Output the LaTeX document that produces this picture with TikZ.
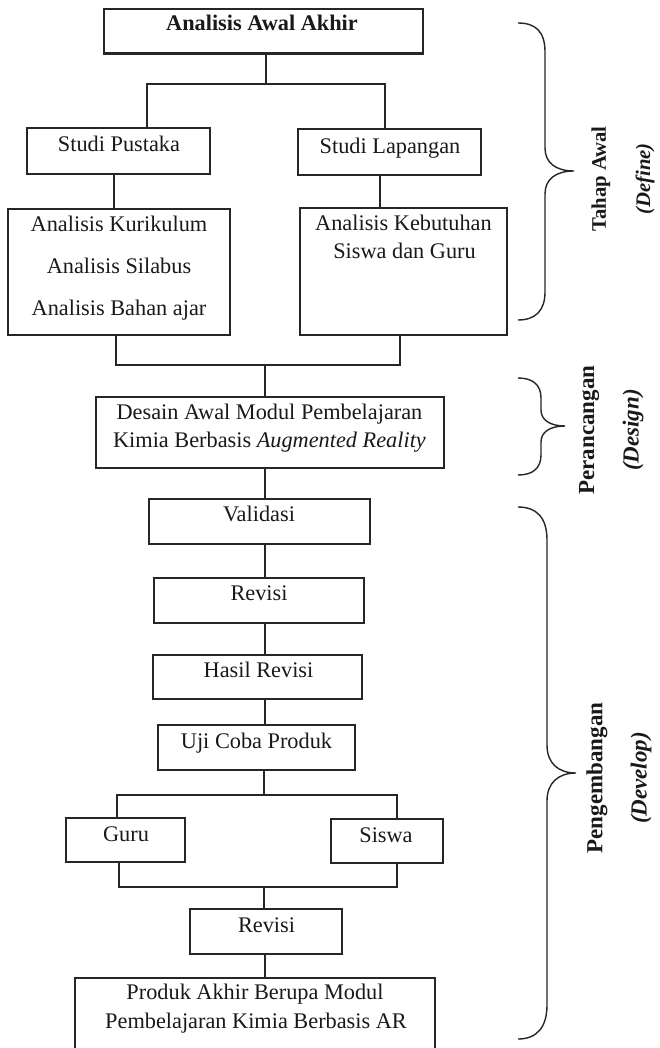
\documentclass[tikz,border=0pt]{standalone}
\usepackage{fontspec}
\setmainfont{Liberation Serif}
\begin{document}
\begin{tikzpicture}[x=1pt,y=-1pt,
  box/.style={draw=black!85, line width=1.2pt, inner sep=0pt, rectangle},
  txt/.style={inner sep=0pt, anchor=base, font=\fontsize{22.3}{27}\selectfont, text=black!90},
  conn/.style={draw=black!85, line width=1.2pt},
  brace/.style={draw=black!85, line width=1.4pt},
  side/.style={inner sep=0pt, rotate=90, anchor=center, text=black!90}]
\useasboundingbox (0,0) rectangle (659,1048);
\fill[white] (0,0) rectangle (659,1048);

% boxes (center, size)
\node[box, minimum width=319pt, minimum height=44pt] (b1) at (263.5,31) {};
\node[box, minimum width=183pt, minimum height=46pt] (b2) at (118.5,151) {};
\node[box, minimum width=183pt, minimum height=46pt] (b3) at (389.5,152) {};
\node[box, minimum width=222pt, minimum height=126pt] (b4) at (119,272) {};
\node[box, minimum width=207pt, minimum height=127pt] (b5) at (403.5,271.5) {};
\node[box, minimum width=348pt, minimum height=71pt] (b6) at (270,432.5) {};
\node[box, minimum width=221pt, minimum height=45pt] (b7) at (259.5,521.5) {};
\node[box, minimum width=210pt, minimum height=45pt] (b8) at (259,600.5) {};
\node[box, minimum width=209pt, minimum height=44pt] (b9) at (257.5,677) {};
\node[box, minimum width=197pt, minimum height=45pt] (b10) at (256.5,747.5) {};
\node[box, minimum width=119pt, minimum height=44pt] (b11) at (125.5,840) {};
\node[box, minimum width=112pt, minimum height=44pt] (b12) at (387,841) {};
\node[box, minimum width=152pt, minimum height=45pt] (b13) at (266,931.5) {};
\node[box, minimum width=360pt, minimum height=82pt] (b14) at (255,1019) {};

% thick bottom edge of first box
\draw[line width=2.8pt, draw=black!85] (b1.south west) -- (b1.south east);

% texts
\node[txt, font=\fontsize{22.3}{27}\selectfont\bfseries] (t1) at (262,31) {Analisis Awal Akhir};
\node[txt] (t2) at (119,152) {Studi Pustaka};
\node[txt] (t3) at (390,154) {Studi Lapangan};
\node[txt] (t4a) at (119,232) {Analisis Kurikulum};
\node[txt] (t4b) at (119,274) {Analisis Silabus};
\node[txt] (t4c) at (119,315) {Analisis Bahan ajar};
\node[txt] (t5a) at (403.5,231) {Analisis Kebutuhan};
\node[txt] (t5b) at (404.5,259) {Siswa dan Guru};
\node[txt] (t6a) at (269.5,419) {Desain Awal Modul Pembelajaran};
\node[txt] (t6b) at (269.5,447) {Kimia Berbasis \textit{Augmented Reality}};
\node[txt] (t7) at (259,521) {Validasi};
\node[txt] (t8) at (259,600) {Revisi};
\node[txt] (t9) at (258.5,677) {Hasil Revisi};
\node[txt] (t10) at (256.5,748) {Uji Coba Produk};
\node[txt] (t11) at (126,841) {Guru};
\node[txt] (t12) at (386,842) {Siswa};
\node[txt] (t13) at (266.5,932) {Revisi};
\node[txt] (t14a) at (255,999) {Produk Akhir Berupa Modul};
\node[txt] (t14b) at (256,1028) {Pembelajaran Kimia Berbasis AR};

% junction coordinates
\coordinate (j1) at (266,84);
\coordinate (j1l) at (147,84);
\coordinate (j1r) at (385,84);
\coordinate (c2) at (114,0);
\coordinate (c3) at (380,0);
\coordinate (j2l) at (116,365);
\coordinate (j2r) at (400,365);
\coordinate (j2) at (265,365);
\coordinate (cm) at (265,0);
\coordinate (j3) at (264,795);
\coordinate (j3l) at (117,795);
\coordinate (j3r) at (397,795);
\coordinate (j4l) at (119,887);
\coordinate (j4r) at (397,887);
\coordinate (j4) at (264,887);

% connectors
\draw[conn] (j1 |- b1.south) -- (j1);
\draw[conn] (j1l |- b2.north) -- (j1l) -- (j1r) -- (j1r |- b3.north);
\draw[conn] (c2 |- b2.south) -- (c2 |- b4.north);
\draw[conn] (c3 |- b3.south) -- (c3 |- b5.north);
\draw[conn] (j2l |- b4.south) -- (j2l) -- (j2r) -- (j2r |- b5.south);
\draw[conn] (j2) -- (j2 |- b6.north);
\draw[conn] (cm |- b6.south) -- (cm |- b7.north);
\draw[conn] (cm |- b7.south) -- (cm |- b8.north);
\draw[conn] (cm |- b8.south) -- (cm |- b9.north);
\draw[conn] (cm |- b9.south) -- (cm |- b10.north);
\draw[conn] (j3 |- b10.south) -- (j3);
\draw[conn] (j3l |- b11.north) -- (j3l) -- (j3r) -- (j3r |- b12.north);
\draw[conn] (j4l |- b11.south) -- (j4l) -- (j4r) -- (j4r |- b12.south);
\draw[conn] (j4) -- (j4 |- b13.north);
\draw[conn] (cm |- b13.south) -- (cm |- b14.north);

% braces
\draw[brace] (518,23) .. controls (536,23) and (545,32) .. (545,52) -- (545,148)
  .. controls (545,163) and (556,171) .. (574,171)
  .. controls (556,171) and (545,179) .. (545,194) -- (545,292)
  .. controls (545,310) and (536,320) .. (518,320);
\draw[brace] (518,378) .. controls (533,378) and (541,385) .. (541,398) -- (541,410)
  .. controls (541,420) and (550,426) .. (565,426)
  .. controls (550,426) and (541,432) .. (541,442) -- (541,455)
  .. controls (541,468) and (533,475) .. (518,475);
\draw[brace] (518,507) .. controls (537,507) and (547,518) .. (547,540) -- (547,745)
  .. controls (547,763) and (558,773) .. (576,773)
  .. controls (558,773) and (547,783) .. (547,801) -- (547,1005)
  .. controls (547,1027) and (537,1039) .. (518,1039);

% side labels
\node[side, font=\fontsize{20.7}{24}\selectfont\bfseries] (s1) at (601,179) {Tahap Awal};
\node[side, font=\fontsize{20.7}{24}\selectfont\bfseries\itshape] (s1b) at (645,179) {(Define)};
\node[side, font=\fontsize{23}{27}\selectfont\bfseries] (s2) at (589,430) {Perancangan};
\node[side, font=\fontsize{23}{27}\selectfont\bfseries\itshape] (s2b) at (633,430) {(Design)};
\node[side, font=\fontsize{23}{27}\selectfont\bfseries] (s3) at (597,778) {Pengembangan};
\node[side, font=\fontsize{23}{27}\selectfont\bfseries\itshape] (s3b) at (641,778) {(Develop)};
\end{tikzpicture}
\end{document}
